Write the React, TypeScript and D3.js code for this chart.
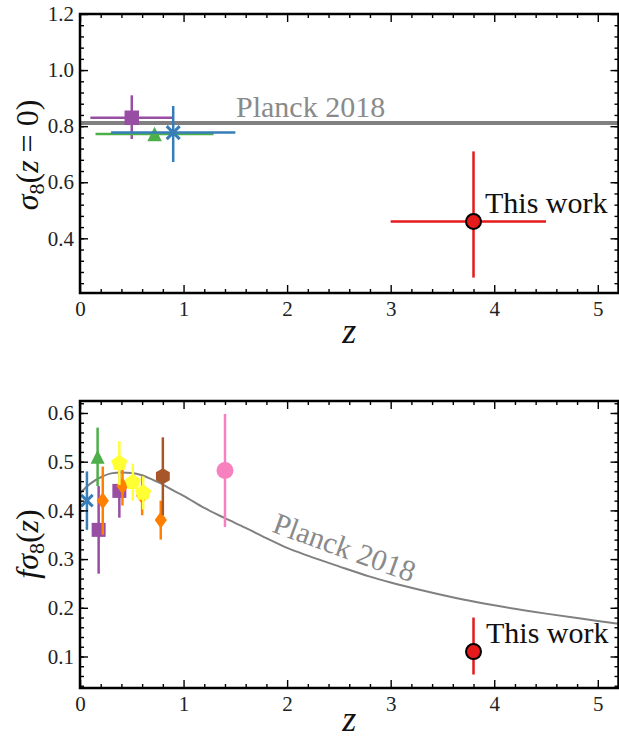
import { useEffect, useRef } from "react";
import * as d3 from "d3";

const W = 619;
const H = 739;
const FONT = "Liberation Serif";

// ---- top panel: sigma8(z=0) ----
const planckSigma8 = 0.811;
const topZ = [0.5, 0.72, 0.9];
const topSigma8 = [0.83, 0.772, 0.777];
const topZErr = [0.4, 0.57, 0.6];
const topErrLo = [0.076, 0, 0.105];
const topErrHi = [0.08, 0, 0.095];
const topColors = ["#984ea3", "#4daf4a", "#377eb8"];
const topMarkers = ["square", "triangle", "x"];

// ---- this work ----
const workZ = 3.8;
const workZLo = 0.8;
const workZHi = 0.7;
const workSigma8 = 0.46;
const workSigma8Lo = 0.2;
const workSigma8Hi = 0.25;
const workFs8 = 0.11;
const workFs8Lo = 0.047;
const workFs8Hi = 0.07;

// ---- bottom panel: f sigma8(z) ----
const blueZ = [0.067];
const blueFs8 = [0.42];
const blueErr = [0.06];

const purpleZ = [0.18, 0.38];
const purpleFs8 = [0.36, 0.44];
const purpleErr = [0.09, 0.055];

const greenZ = [0.17];
const greenFs8 = [0.51];
const greenErr = [0.06];

const orangeZ = [0.22, 0.41, 0.6, 0.78];
const orangeFs8 = [0.42, 0.45, 0.43, 0.38];
const orangeErr = [0.07, 0.04, 0.04, 0.04];

const yellowZ = [0.38, 0.51, 0.61];
const yellowFs8 = [0.497, 0.458, 0.436];
const yellowErr = [0.045, 0.038, 0.034];

const brownZ = [0.8];
const brownFs8 = [0.47];
const brownErr = [0.08];

const pinkZ = [1.4];
const pinkFs8 = [0.482];
const pinkErr = [0.116];

// Planck 2018 f sigma8 curve
const planckZ = [0, 0.1, 0.2, 0.3, 0.4, 0.5, 0.6, 0.7, 0.8, 0.9, 1.0, 1.2, 1.4, 1.6, 1.8, 2.0, 2.2, 2.5, 2.8, 3.0, 3.3, 3.7, 4.0, 4.5, 5.0, 5.2];
const planckFs8 = [0.435, 0.455, 0.468, 0.476, 0.478, 0.477, 0.472, 0.463, 0.453, 0.441, 0.43, 0.405, 0.384, 0.364, 0.343, 0.323, 0.307, 0.285, 0.264, 0.252, 0.236, 0.217, 0.205, 0.188, 0.173, 0.167];

// ---- ticks ----
const xTicks = [0, 1, 2, 3, 4, 5];
const topYTicks = [0.4, 0.6, 0.8, 1.0, 1.2];
const botYTicks = [0.1, 0.2, 0.3, 0.4, 0.5, 0.6];

const polygon = (pts: [number, number][]) => ({
  draw(ctx: any, size: number) {
    const r = Math.sqrt(size) / 2;
    pts.forEach(([px, py], i) =>
      i ? ctx.lineTo(px * r, py * r) : ctx.moveTo(px * r, py * r),
    );
    ctx.closePath();
  },
});

const regular = (n: number): [number, number][] =>
  d3.range(n).map((i) => {
    const a = (2 * Math.PI * i) / n;
    return [Math.sin(a), -Math.cos(a)];
  });

const crossX = {
  draw(ctx: any, size: number) {
    const r = Math.sqrt(size) / 2;
    ctx.moveTo(-r, -r);
    ctx.lineTo(r, r);
    ctx.moveTo(-r, r);
    ctx.lineTo(r, -r);
  },
};

const symbolTypes: Record<string, any> = {
  square: d3.symbolSquare,
  circle: d3.symbolCircle,
  triangle: polygon([
    [0, -1],
    [1, 1],
    [-1, 1],
  ]),
  thinDiamond: polygon([
    [0, -1],
    [0.72, 0],
    [0, 1],
    [-0.72, 0],
  ]),
  pentagon: polygon(regular(5)),
  hexagon: polygon(regular(6)),
  x: crossX,
};

const App = () => {
  const svgRef = useRef<SVGSVGElement | null>(null);

  useEffect(() => {
    if (!svgRef.current) return;
    const svg = d3.select(svgRef.current);
    svg.selectAll("*").remove();

    const left = 80;
    const right = 618.5;

    const x = d3.scaleLinear().domain([0, 5.2]).range([left, right]);
    const yTop = d3.scaleLinear().domain([0.205, 1.2]).range([293, 14]);
    const yBot = d3.scaleLinear().domain([0.0353, 0.6246]).range([688, 401]);

    const styleAxis = (g: any) => {
      g.attr("font-family", FONT).attr("font-size", 21);
      g.select(".domain").remove();
      g.selectAll(".tick line").attr("stroke", "#000").attr("stroke-width", 1.4);
      g.selectAll("text").attr("fill", "#222");
    };

    const drawAxes = (y: any, yMajor: number[], yMinor: number[]) => {
      const [y0, y1] = y.range();
      const xMinor = d3.range(0.2, 5.2, 0.2).filter((v) => Math.abs(v - Math.round(v)) > 1e-6);
      const none = () => "";

      svg.append("g").attr("transform", `translate(0,${y0})`)
        .call(d3.axisBottom(x).tickValues(xTicks).tickSize(-8).tickPadding(8).tickFormat(d3.format("d")))
        .call(styleAxis);
      svg.append("g").attr("transform", `translate(0,${y0})`)
        .call(d3.axisBottom(x).tickValues(xMinor).tickSize(-4).tickFormat(none))
        .call(styleAxis);
      svg.append("g").attr("transform", `translate(0,${y1})`)
        .call(d3.axisTop(x).tickValues(xTicks).tickSize(-8).tickFormat(none))
        .call(styleAxis);
      svg.append("g").attr("transform", `translate(0,${y1})`)
        .call(d3.axisTop(x).tickValues(xMinor).tickSize(-4).tickFormat(none))
        .call(styleAxis);

      svg.append("g").attr("transform", `translate(${left},0)`)
        .call(d3.axisLeft(y).tickValues(yMajor).tickSize(-8).tickPadding(6).tickFormat(d3.format(".1f")))
        .call(styleAxis);
      svg.append("g").attr("transform", `translate(${left},0)`)
        .call(d3.axisLeft(y).tickValues(yMinor).tickSize(-4).tickFormat(none))
        .call(styleAxis);
      svg.append("g").attr("transform", `translate(${right},0)`)
        .call(d3.axisRight(y).tickValues(yMajor).tickSize(-8).tickFormat(none))
        .call(styleAxis);
      svg.append("g").attr("transform", `translate(${right},0)`)
        .call(d3.axisRight(y).tickValues(yMinor).tickSize(-4).tickFormat(none))
        .call(styleAxis);

      svg.append("rect")
        .attr("x", left)
        .attr("y", y1)
        .attr("width", right - left)
        .attr("height", y0 - y1)
        .attr("fill", "none")
        .attr("stroke", "#000")
        .attr("stroke-width", 2.5);

      svg.append("text")
        .attr("x", (left + right) / 2)
        .attr("y", y0 + (y0 > 600 ? 43 : 50))
        .attr("text-anchor", "middle")
        .attr("font-family", FONT)
        .attr("font-size", 36)
        .attr("font-style", "italic")
        .attr("fill", "#111")
        .text("z");
    };

    const drawMarker = (g: any, cx: number, cy: number, kind: string, size: number, color: string) => {
      const path = d3.symbol().type(symbolTypes[kind]).size(size * size)();
      const m = g.append("path")
        .attr("d", path)
        .attr("transform", `translate(${cx},${cy})`);
      if (kind === "x") {
        m.attr("fill", "none").attr("stroke", color).attr("stroke-width", 3);
      } else {
        m.attr("fill", color);
      }
    };

    const errLine = (g: any, x1: number, y1: number, x2: number, y2: number, color: string) =>
      g.append("line")
        .attr("x1", x1).attr("y1", y1).attr("x2", x2).attr("y2", y2)
        .attr("stroke", color)
        .attr("stroke-width", 2.5);

    const label = (g: any, text: string, size: number, color: string) =>
      g.append("text")
        .attr("font-family", FONT)
        .attr("font-size", size)
        .attr("fill", color)
        .text(text);

    // ===== top panel =====
    const top = svg.append("g");
    top.append("line")
      .attr("x1", x(0)).attr("x2", x(5.2))
      .attr("y1", yTop(planckSigma8)).attr("y2", yTop(planckSigma8))
      .attr("stroke", "#808080")
      .attr("stroke-width", 4);
    label(top, "Planck 2018", 30, "#8a8a8a").attr("x", 236).attr("y", 117);

    topZ.forEach((z, i) => {
      const c = topColors[i];
      errLine(top, x(z - topZErr[i]), yTop(topSigma8[i]), x(z + topZErr[i]), yTop(topSigma8[i]), c);
      if (topErrLo[i] + topErrHi[i] > 0)
        errLine(top, x(z), yTop(topSigma8[i] - topErrLo[i]), x(z), yTop(topSigma8[i] + topErrHi[i]), c);
      drawMarker(top, x(z), yTop(topSigma8[i]), topMarkers[i], topMarkers[i] === "x" ? 13 : 14.5, c);
    });

    errLine(top, x(workZ - workZLo), yTop(workSigma8), x(workZ + workZHi), yTop(workSigma8), "#e41a1c");
    errLine(top, x(workZ), yTop(workSigma8 - workSigma8Lo), x(workZ), yTop(workSigma8 + workSigma8Hi), "#e41a1c");
    top.append("circle")
      .attr("cx", x(workZ)).attr("cy", yTop(workSigma8)).attr("r", 7.5)
      .attr("fill", "#e41a1c").attr("stroke", "#000").attr("stroke-width", 2);
    label(top, "This work", 30, "#111").attr("x", 485).attr("y", 213);

    drawAxes(yTop, topYTicks, d3.range(0.24, 1.2, 0.04));

    // y label top
    const lt = label(svg, "", 32, "#111")
      .attr("transform", "translate(38,155) rotate(-90)")
      .attr("text-anchor", "middle");
    lt.append("tspan").attr("font-style", "italic").text("σ");
    lt.append("tspan").attr("font-size", 22).attr("dy", 6).text("8");
    lt.append("tspan").attr("dy", -6).text("(");
    lt.append("tspan").attr("font-style", "italic").text("z");
    lt.append("tspan").text(" = 0)");

    // ===== bottom panel =====
    const bot = svg.append("g");
    const line = d3.line<[number, number]>()
      .x((d) => x(d[0]))
      .y((d) => yBot(d[1]))
      .curve(d3.curveMonotoneX);
    bot.append("path")
      .attr("d", line(d3.zip(planckZ, planckFs8) as [number, number][]))
      .attr("fill", "none")
      .attr("stroke", "#808080")
      .attr("stroke-width", 2);
    label(bot, "Planck 2018", 30, "#8a8a8a")
      .attr("transform", "translate(341,557) rotate(20)")
      .attr("text-anchor", "middle");

    const series = [
      { z: blueZ, v: blueFs8, e: blueErr, color: "#377eb8", kind: "x", size: 11.5 },
      { z: purpleZ, v: purpleFs8, e: purpleErr, color: "#984ea3", kind: "square", size: 14 },
      { z: greenZ, v: greenFs8, e: greenErr, color: "#4daf4a", kind: "triangle", size: 14 },
      { z: orangeZ, v: orangeFs8, e: orangeErr, color: "#ff7f00", kind: "thinDiamond", size: 17 },
      { z: yellowZ, v: yellowFs8, e: yellowErr, color: "#ffff33", kind: "pentagon", size: 17 },
      { z: brownZ, v: brownFs8, e: brownErr, color: "#a65628", kind: "hexagon", size: 16 },
      { z: pinkZ, v: pinkFs8, e: pinkErr, color: "#f781bf", kind: "circle", size: 15 },
    ];
    series.forEach((s) => {
      s.z.forEach((z, i) => {
        errLine(bot, x(z), yBot(s.v[i] - s.e[i]), x(z), yBot(s.v[i] + s.e[i]), s.color);
      });
      s.z.forEach((z, i) => drawMarker(bot, x(z), yBot(s.v[i]), s.kind, s.size, s.color));
    });

    errLine(bot, x(workZ), yBot(workFs8 - workFs8Lo), x(workZ), yBot(workFs8 + workFs8Hi), "#e41a1c");
    bot.append("circle")
      .attr("cx", x(workZ)).attr("cy", yBot(workFs8)).attr("r", 7.5)
      .attr("fill", "#e41a1c").attr("stroke", "#000").attr("stroke-width", 2);
    label(bot, "This work", 30, "#111").attr("x", 486).attr("y", 643);

    drawAxes(yBot, botYTicks, d3.range(0.04, 0.625, 0.02));

    const lb = label(svg, "", 32, "#111")
      .attr("transform", "translate(38,544) rotate(-90)")
      .attr("text-anchor", "middle");
    lb.append("tspan").attr("font-style", "italic").text("fσ");
    lb.append("tspan").attr("font-size", 22).attr("dy", 6).text("8");
    lb.append("tspan").attr("dy", -6).text("(");
    lb.append("tspan").attr("font-style", "italic").text("z");
    lb.append("tspan").text(")");
  }, []);

  return (
    <svg
      ref={svgRef}
      width={W}
      height={H}
      style={{ position: "absolute", left: 0, top: 0, background: "#fff" }}
    />
  );
};

export default App;
